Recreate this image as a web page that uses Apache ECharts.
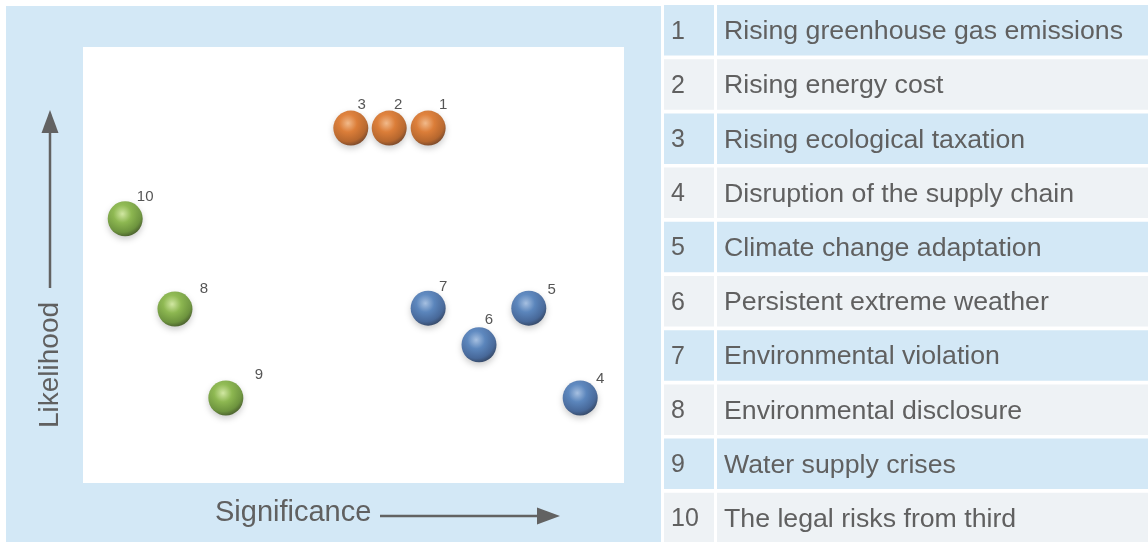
<!DOCTYPE html>
<html>
<head>
<meta charset="utf-8">
<script src="https://cdn.jsdelivr.net/npm/echarts@6/dist/echarts.min.js"></script>
<style>
html,body{margin:0;padding:0;background:#ffffff;}
#chart{width:1148px;height:542px;}
</style>
</head>
<body>
<div id="chart"></div>
<script>
// ---- data ----
var riskIds = [1, 2, 3, 4, 5, 6, 7, 8, 9, 10];
var riskNames = [
  'Rising greenhouse gas emissions',
  'Rising energy cost',
  'Rising ecological taxation',
  'Disruption of the supply chain',
  'Climate change adaptation',
  'Persistent extreme weather',
  'Environmental violation',
  'Environmental disclosure',
  'Water supply crises',
  'The legal risks from third'
];
var significance = [63.8, 56.6, 49.5, 91.9, 82.4, 73.2, 63.8, 17.0, 26.4, 7.8];
var likelihood   = [81.4, 81.4, 81.4, 19.5, 40.1, 31.7, 40.1, 39.9, 19.5, 60.6];
var riskGroup    = ['orange','orange','orange','blue','blue','blue','blue','green','green','green'];
var xAxisTitle = 'Significance';
var yAxisTitle = 'Likelihood';

// ---- styling (not data) ----
var labelOffsets = [[15,-23],[9,-23],[11,-23],[20,-19],[23,-18],[10,-25],[15,-21],[29,-20],[33,-23],[20,-22]];
var groupColors = {
  orange: ['#fbb57a', '#df6a14', '#b04d06', '#6e2c02'],
  blue:   ['#9dbde6', '#3f74b8', '#264f8c', '#122c55'],
  green:  ['#d2ee98', '#7db232', '#55851a', '#2f4d08']
};
var textGray = '#606060';

function ballColor(c) {
  return {
    type: 'radial', x: 0.42, y: 0.36, r: 0.64,
    colorStops: [
      {offset: 0, color: c[0]},
      {offset: 0.4, color: c[1]},
      {offset: 0.82, color: c[2]},
      {offset: 1, color: c[3]}
    ]
  };
}

function buildSeries(group) {
  var pts = [];
  for (var i = 0; i < riskIds.length; i++) {
    if (riskGroup[i] !== group) continue;
    pts.push({
      value: [significance[i], likelihood[i]],
      name: String(riskIds[i]),
      label: { offset: labelOffsets[i] }
    });
  }
  return {
    type: 'scatter',
    symbol: 'circle',
    symbolSize: 35,
    data: pts,
    itemStyle: {
      color: ballColor(groupColors[group]),
      shadowBlur: 6,
      shadowColor: 'rgba(0,0,0,0.25)',
      shadowOffsetY: 3
    },
    label: {
      show: true,
      position: 'inside',
      formatter: function (p) { return p.name; },
      color: '#2a2a2a',
      fontSize: 15,
      fontFamily: 'Liberation Sans, Arial, sans-serif'
    },
    emphasis: { disabled: true },
    silent: true
  };
}

// ---- table graphics ----
var graphics = [];
graphics.push({
  type: 'rect', z: -10,
  shape: {x: 6, y: 6, width: 655, height: 536},
  style: {fill: '#d3e8f6'}
});
var rowTop = 5, rowPitch = 54.2, rowH = 50.5;
for (var r = 0; r < riskNames.length; r++) {
  var fill = (r % 2 === 0) ? '#d3e8f6' : '#eef2f5';
  var y0 = rowTop + r * rowPitch;
  graphics.push({type: 'rect', z: -10, shape: {x: 664, y: y0, width: 50, height: rowH}, style: {fill: fill}});
  graphics.push({type: 'rect', z: -10, shape: {x: 717, y: y0, width: 431, height: rowH}, style: {fill: fill}});
  graphics.push({
    type: 'text', x: 671, y: y0 + rowH / 2 + 1.5,
    style: {text: String(riskIds[r]), fill: textGray, font: '25px "Liberation Sans", Arial, sans-serif', textVerticalAlign: 'middle', verticalAlign: 'middle'}
  });
  graphics.push({
    type: 'text', x: 724, y: y0 + rowH / 2 + 1.5,
    style: {text: riskNames[r], fill: textGray, font: '26.7px "Liberation Sans", Arial, sans-serif', textVerticalAlign: 'middle', verticalAlign: 'middle'}
  });
}
// axis arrows and titles
var arrowCol = '#626262';
graphics.push({type: 'line', shape: {x1: 50, y1: 288, x2: 50, y2: 128}, style: {stroke: arrowCol, lineWidth: 2.5}});
graphics.push({type: 'polygon', shape: {points: [[50, 110], [41.5, 133], [58.5, 133]]}, style: {fill: arrowCol}});
graphics.push({type: 'line', shape: {x1: 380, y1: 516, x2: 540, y2: 516}, style: {stroke: arrowCol, lineWidth: 2.5}});
graphics.push({type: 'polygon', shape: {points: [[560, 516], [537, 507.5], [537, 524.5]]}, style: {fill: arrowCol}});
graphics.push({
  type: 'text', x: 215, y: 513,
  style: {text: xAxisTitle, fill: textGray, font: '29px "Liberation Sans", Arial, sans-serif', textVerticalAlign: 'middle', verticalAlign: 'middle'}
});
graphics.push({
  type: 'text', x: 50, y: 365, rotation: Math.PI / 2,
  style: {text: yAxisTitle, fill: textGray, font: '28px "Liberation Sans", Arial, sans-serif', align: 'center', textAlign: 'center', textVerticalAlign: 'middle', verticalAlign: 'middle'}
});

var chart = echarts.init(document.getElementById('chart'), null, {renderer: 'canvas'});
chart.setOption({
  animation: false,
  backgroundColor: '#ffffff',
  grid: {left: 83, top: 47, width: 541, height: 436, show: true, backgroundColor: '#ffffff', borderWidth: 0},
  xAxis: {type: 'value', min: 0, max: 100, show: false},
  yAxis: {type: 'value', min: 0, max: 100, show: false},
  graphic: graphics,
  series: [buildSeries('orange'), buildSeries('blue'), buildSeries('green')]
});
</script>
</body>
</html>
